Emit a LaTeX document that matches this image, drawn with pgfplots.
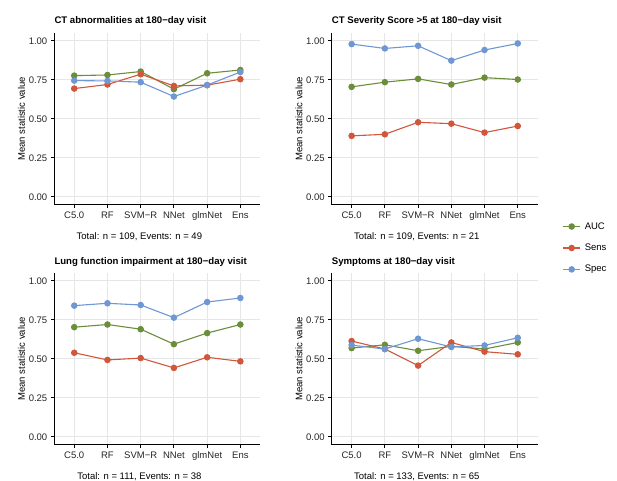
\documentclass[border=0pt]{standalone}
\usepackage{fontspec}
\setmainfont{Liberation Sans}
\usepackage{pgfplots}
\pgfplotsset{compat=1.18}
\definecolor{cauc}{HTML}{6B8E3A}
\definecolor{csens}{HTML}{D0573B}
\definecolor{cspec}{HTML}{6E97D4}
\definecolor{cgrid}{HTML}{E6E6E6}
\definecolor{ctick}{HTML}{262626}
\pgfplotsset{
 panel/.style={
  scale only axis, width=206pt, height=171.7pt,
  xmin=0.4, xmax=6.6, ymin=-0.05, ymax=1.05,
  axis x line=bottom, axis y line=left,
  x axis line style={-}, y axis line style={-},
  every outer x axis line/.append style={line width=1.3pt, black},
  every outer y axis line/.append style={line width=1.3pt, black},
  xtick={1,2,3,4,5,6}, xticklabels={C5.0,RF,SVM−R,NNet,glmNet,Ens},
  ytick={0,0.25,0.5,0.75,1},
  yticklabel style={/pgf/number format/.cd, fixed, fixed zerofill, precision=2, /tikz/.cd},
  /pgf/number format/assume math mode=true,
  grid=major, major grid style={cgrid, line width=0.9pt},
  tick align=outside, major tick length=3.5pt,
  every tick/.style={black, line width=0.9pt},
  tick label style={font=\fontsize{9.5}{11}\selectfont, text=ctick},
  label style={font=\fontsize{9.5}{11}\selectfont},
  title style={font=\fontsize{9.6}{11}\selectfont\bfseries, at={(axis description cs:0,1)}, anchor=base west, inner sep=0pt, yshift=3pt},
  ylabel={Mean statistic value},
  ylabel style={at={(axis description cs:-0.159,0.5)}, anchor=center},
  xlabel style={at={(axis description cs:0.413,-0.1855)}, anchor=center},
  every axis plot/.append style={line width=1.1pt, mark=*, mark size=2.7pt},
  clip=false,
 }
}
\begin{document}
\begin{tikzpicture}
\useasboundingbox (0,0) rectangle (617pt,480pt);
% Panel 1
\begin{axis}[panel, at={(54.3pt,275.3pt)}, anchor=south west,
  title={CT abnormalities at 180−day visit},
  xlabel={Total: n = 109, Events: n = 49}]
\addplot[cauc] coordinates {(1,0.777)(2,0.781)(3,0.803)(4,0.690)(5,0.792)(6,0.813)};
\addplot[csens] coordinates {(1,0.694)(2,0.720)(3,0.786)(4,0.711)(5,0.716)(6,0.754)};
\addplot[cspec] coordinates {(1,0.745)(2,0.743)(3,0.735)(4,0.643)(5,0.716)(6,0.800)};
\end{axis}
% Panel 2
\begin{axis}[panel, at={(331.7pt,275.3pt)}, anchor=south west,
  title={CT Severity Score >5 at 180−day visit},
  xlabel={Total: n = 109, Events: n = 21},
  legend style={at={(axis description cs:1.12,-0.252)}, anchor=west, draw=none, fill=none,
    font=\fontsize{9.5}{11}\selectfont, row sep=9.3pt, inner sep=0pt,
    nodes={inner xsep=4pt}},
  legend cell align=left]
\addplot[cauc] coordinates {(1,0.705)(2,0.735)(3,0.756)(4,0.720)(5,0.764)(6,0.752)};
\addlegendentry{AUC}
\addplot[csens] coordinates {(1,0.391)(2,0.401)(3,0.478)(4,0.469)(5,0.412)(6,0.454)};
\addlegendentry{Sens}
\addplot[cspec] coordinates {(1,0.979)(2,0.951)(3,0.968)(4,0.873)(5,0.941)(6,0.983)};
\addlegendentry{Spec}
\end{axis}
% Panel 3
\begin{axis}[panel, at={(54.3pt,35.3pt)}, anchor=south west,
  title={Lung function impairment at 180−day visit},
  xlabel={Total: n = 111, Events: n = 38}]
\addplot[cauc] coordinates {(1,0.703)(2,0.720)(3,0.690)(4,0.594)(5,0.665)(6,0.720)};
\addplot[csens] coordinates {(1,0.539)(2,0.493)(3,0.505)(4,0.442)(5,0.510)(6,0.484)};
\addplot[cspec] coordinates {(1,0.841)(2,0.856)(3,0.845)(4,0.764)(5,0.864)(6,0.890)};
\end{axis}
% Panel 4
\begin{axis}[panel, at={(331.7pt,35.3pt)}, anchor=south west,
  title={Symptoms at 180−day visit},
  xlabel={Total: n = 133, Events: n = 65}]
\addplot[cauc] coordinates {(1,0.569)(2,0.590)(3,0.552)(4,0.580)(5,0.563)(6,0.605)};
\addplot[csens] coordinates {(1,0.614)(2,0.563)(3,0.457)(4,0.605)(5,0.546)(6,0.529)};
\addplot[cspec] coordinates {(1,0.588)(2,0.563)(3,0.629)(4,0.576)(5,0.586)(6,0.635)};
\end{axis}
\end{tikzpicture}
\end{document}
